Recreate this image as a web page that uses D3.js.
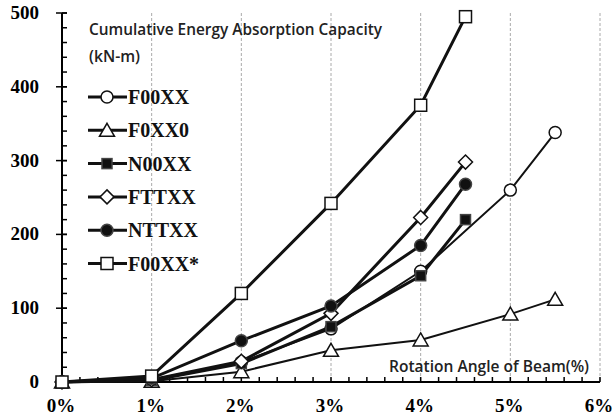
<!DOCTYPE html>
<html>
<head>
<meta charset="utf-8">
<script src="https://cdn.jsdelivr.net/npm/d3@7"></script>
<style>
  body { margin: 0; background: #fff; }
</style>
</head>
<body>
<div id="chart"></div>
<script>
// data
var seriesNames = ["F00XX", "F0XX0", "N00XX", "FTTXX", "NTTXX", "F00XX*"];
var markers = ["circleOpen", "triangleOpen", "squareFill", "diamondOpen", "circleFill", "squareOpen"];
var angF00XX = [0, 1, 2, 3, 4, 5, 5.5];
var valF00XX = [0, 3, 27, 72, 150, 260, 338];
var angF0XX0 = [0, 1, 2, 3, 4, 5, 5.5];
var valF0XX0 = [0, 1, 14, 43, 57, 92, 112];
var angN00XX = [0, 1, 2, 3, 4, 4.5];
var valN00XX = [0, 2, 25, 75, 144, 220];
var angFTTXX = [0, 1, 2, 3, 4, 4.5];
var valFTTXX = [0, 3, 28, 93, 223, 298];
var angNTTXX = [0, 1, 2, 3, 4, 4.5];
var valNTTXX = [0, 5, 56, 103, 185, 268];
var angF00XXs = [0, 1, 2, 3, 4, 4.5];
var valF00XXs = [0, 8, 120, 242, 375, 495];
var xTicks = [0, 1, 2, 3, 4, 5, 6];
var yTicks = [0, 100, 200, 300, 400, 500];

var series = [
  { x: angF00XX, y: valF00XX, w: 2 },
  { x: angF0XX0, y: valF0XX0, w: 2 },
  { x: angN00XX, y: valN00XX, w: 3 },
  { x: angFTTXX, y: valFTTXX, w: 3 },
  { x: angNTTXX, y: valNTTXX, w: 3 },
  { x: angF00XXs, y: valF00XXs, w: 3 }
];

var W = 616, H = 420;
var x = d3.scaleLinear().domain([0, 6]).range([62, 600]);
var y = d3.scaleLinear().domain([0, 500]).range([382, 13]);

var svg = d3.select("#chart").append("svg")
  .attr("width", W).attr("height", H);

// dashed vertical grid
svg.selectAll("line.grid")
  .data(xTicks.slice(1))
  .enter().append("line")
  .attr("x1", d => x(d)).attr("x2", d => x(d))
  .attr("y1", y(500)).attr("y2", y(0))
  .attr("stroke", "#aaa").attr("stroke-width", 1)
  .attr("stroke-dasharray", "3,2");

// axes
var serif = "'Liberation Serif', 'Times New Roman', serif";
var xMinor = d3.range(0, 6.01, 0.2);
var yMinor = d3.range(0, 501, 20);

var ax = svg.append("g");
ax.append("line").attr("x1", x(0)).attr("x2", x(6)).attr("y1", y(0)).attr("y2", y(0))
  .attr("stroke", "#000").attr("stroke-width", 2);
ax.append("line").attr("x1", x(0)).attr("x2", x(0)).attr("y1", y(0)).attr("y2", y(500))
  .attr("stroke", "#000").attr("stroke-width", 2);

ax.selectAll("line.xm").data(xMinor).enter().append("line")
  .attr("x1", d => x(d)).attr("x2", d => x(d))
  .attr("y1", y(0)).attr("y2", y(0) - 5)
  .attr("stroke", "#000").attr("stroke-width", 1.5);
ax.selectAll("line.ym").data(yMinor).enter().append("line")
  .attr("x1", x(0)).attr("x2", x(0) + 5)
  .attr("y1", d => y(d)).attr("y2", d => y(d))
  .attr("stroke", "#000").attr("stroke-width", 1.5);
ax.selectAll("line.yM").data(yTicks).enter().append("line")
  .attr("x1", x(0) - 6).attr("x2", x(0) + 5)
  .attr("y1", d => y(d)).attr("y2", d => y(d))
  .attr("stroke", "#000").attr("stroke-width", 1.5);

ax.selectAll("text.yl").data(yTicks).enter().append("text")
  .attr("x", 39).attr("y", d => y(d) + 6)
  .attr("text-anchor", "end")
  .attr("font-family", serif).attr("font-weight", "bold").attr("font-size", 19)
  .text(d => d);
ax.selectAll("text.xl").data(xTicks).enter().append("text")
  .attr("x", d => x(d) - 1).attr("y", 412)
  .attr("text-anchor", "middle")
  .attr("font-family", serif).attr("font-weight", "bold").attr("font-size", 19)
  .text(d => d + "%");

// marker drawing
function drawMarker(g, type, cx, cy) {
  var filled = type.indexOf("Fill") >= 0;
  var fill = filled ? "#111" : "#fff";
  var m;
  if (type.indexOf("circle") === 0) {
    m = g.append("circle").attr("cx", cx).attr("cy", cy).attr("r", 6);
  } else if (type.indexOf("square") === 0) {
    var s = filled ? 10 : 12;
    m = g.append("rect").attr("x", cx - s / 2).attr("y", cy - s / 2).attr("width", s).attr("height", s);
  } else if (type.indexOf("triangle") === 0) {
    m = g.append("path").attr("d", "M" + cx + "," + (cy - 7) + "L" + (cx + 7.5) + "," + (cy + 6) + "L" + (cx - 7.5) + "," + (cy + 6) + "Z");
  } else {
    m = g.append("path").attr("d", "M" + cx + "," + (cy - 7) + "L" + (cx + 7) + "," + cy + "L" + cx + "," + (cy + 7) + "L" + (cx - 7) + "," + cy + "Z");
  }
  m.attr("fill", fill).attr("stroke", filled ? "#444" : "#111").attr("stroke-width", 1.5);
}

var line = d3.line().x(d => x(d[0])).y(d => y(d[1]));

series.forEach(function (s, i) {
  var pts = s.x.map((v, j) => [v, s.y[j]]);
  svg.append("path").datum(pts)
    .attr("d", line)
    .attr("fill", "none").attr("stroke", "#111").attr("stroke-width", s.w);
});
series.forEach(function (s, i) {
  var g = svg.append("g");
  s.x.forEach(function (v, j) { drawMarker(g, markers[i], x(v), y(s.y[j])); });
});

// titles
var sans = "'Open Sans', 'Noto Sans', sans-serif";
function label(tx, ty, str, len, anchor) {
  svg.append("text").attr("x", tx).attr("y", ty)
    .attr("text-anchor", anchor || "start")
    .attr("font-family", sans).attr("font-size", 16).attr("font-weight", 600).attr("fill", "#222")
    .attr("textLength", len).attr("lengthAdjust", "spacingAndGlyphs")
    .text(str);
}
label(89, 35, "Cumulative Energy Absorption Capacity", 293);
label(89, 62, "(kN-m)", 51);
label(389, 372, "Rotation Angle of Beam(%)", 200);

// legend
var legend = svg.append("g");
seriesNames.forEach(function (name, i) {
  var ly = 97 + i * 33.3;
  legend.append("line").attr("x1", 88).attr("x2", 127).attr("y1", ly).attr("y2", ly)
    .attr("stroke", "#111").attr("stroke-width", 3);
  drawMarker(legend, markers[i], 107, ly);
  legend.append("text").attr("x", 128).attr("y", ly + 7)
    .attr("font-family", serif).attr("font-weight", "bold").attr("font-size", 20).attr("fill", "#111")
    .text(name);
});
</script>
</body>
</html>
